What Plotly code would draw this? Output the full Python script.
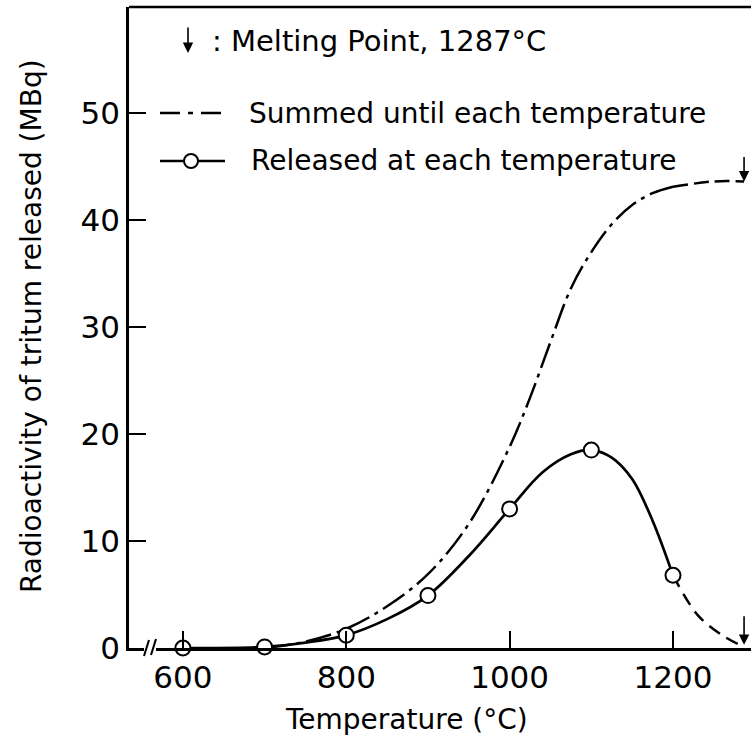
import plotly.graph_objects as go

# Tritium released from the sample at each heating temperature (MBq)
temps = [600, 700, 800, 900, 1000, 1100, 1200]
released = [0.0, 0.1, 1.2, 4.9, 13.0, 18.5, 6.8]

released_curve_t = [600, 700, 750, 800, 850, 900, 950, 1000, 1040, 1075, 1100, 1125, 1150, 1175, 1200]
released_curve = [0.0, 0.1, 0.5, 1.2, 2.7, 4.9, 8.6, 13.0, 16.4, 18.1, 18.5, 17.8, 15.8, 11.9, 6.8]

# Extrapolated tail of the released curve up to the melting point
released_tail_t = [1200, 1230, 1260, 1287]
released_tail = [6.8, 3.1, 1.2, 0.1]

# Cumulative release summed until each temperature
summed_t = [700, 750, 800, 850, 900, 950, 1000, 1025, 1050, 1075, 1100, 1125, 1150, 1175, 1200]
summed = [0.0, 0.6, 1.8, 3.9, 6.9, 11.6, 18.8, 23.4, 28.6, 33.6, 37.0, 39.6, 41.4, 42.5, 43.1]
summed_tail_t = [1200, 1250, 1287]
summed_tail = [43.1, 43.6, 43.6]

melting_point = 1287

x_ticks = [600, 800, 1000, 1200]
y_ticks = [0, 10, 20, 30, 40, 50]

FONT = "DejaVu Sans"
W, H = 751, 747
ML, MR, MT, MB = 129, 0, 7, 99
PW, PH = W - ML - MR, H - MT - MB


def px(x):
    return (x - ML) / PW


def py(y):
    return (H - MB - y) / PH


fig = go.Figure()

fig.add_trace(go.Scatter(
    x=summed_t, y=summed, mode="lines",
    line=dict(color="black", width=2.5, shape="spline", dash="26px,6px,4px,6px"),
    hoverinfo="skip", showlegend=False))
fig.add_trace(go.Scatter(
    x=summed_tail_t, y=summed_tail, mode="lines",
    line=dict(color="black", width=2.5, shape="spline", dash="15px,6px"),
    hoverinfo="skip", showlegend=False))
fig.add_trace(go.Scatter(
    x=released_tail_t, y=released_tail, mode="lines",
    line=dict(color="black", width=2.5, shape="spline", dash="13px,8px"),
    hoverinfo="skip", showlegend=False))
fig.add_trace(go.Scatter(
    x=released_curve_t, y=released_curve, mode="lines",
    line=dict(color="black", width=2.7, shape="spline"),
    hoverinfo="skip", showlegend=False))
fig.add_trace(go.Scatter(
    x=temps, y=released, mode="markers",
    marker=dict(symbol="circle", size=15, color="white",
                line=dict(color="black", width=2)),
    cliponaxis=False, hoverinfo="skip", showlegend=False))

annotations = []
# Melting point arrows
for yv, length in [(summed_tail[-1], -26), (0.3, -30)]:
    annotations.append(dict(
        x=melting_point, y=yv, xref="x", yref="y", text="", showarrow=True,
        ax=0, ay=length, arrowhead=2, arrowsize=1.3, arrowwidth=1.6,
        arrowcolor="black"))

# Key
annotations.append(dict(
    x=px(188), y=py(53), xref="paper", yref="paper", text="", showarrow=True,
    ax=0, ay=-27, arrowhead=2, arrowsize=1.3, arrowwidth=1.6, arrowcolor="black"))
annotations.append(dict(
    x=px(210), y=py(41), xref="paper", yref="paper", xanchor="left", yanchor="middle",
    text=": Melting Point, 1287°C", showarrow=False,
    font=dict(family=FONT, size=29, color="black")))
annotations.append(dict(
    x=px(247), y=py(113), xref="paper", yref="paper", xanchor="left", yanchor="middle",
    text="Summed until each temperature", showarrow=False,
    font=dict(family=FONT, size=28, color="black")))
annotations.append(dict(
    x=px(249), y=py(160), xref="paper", yref="paper", xanchor="left", yanchor="middle",
    text="Released at each temperature", showarrow=False,
    font=dict(family=FONT, size=28, color="black")))

# Axis titles
annotations.append(dict(
    x=px(406), y=py(719), xref="paper", yref="paper", xanchor="center", yanchor="middle",
    text="Temperature (°C)", showarrow=False,
    font=dict(family=FONT, size=28, color="black")))
annotations.append(dict(
    x=px(31), y=py(326), xref="paper", yref="paper", xanchor="center", yanchor="middle",
    text="Radioactivity of tritum released (MBq)", showarrow=False, textangle=-90,
    font=dict(family=FONT, size=28, color="black")))

shapes = [
    # top frame line
    dict(type="line", xref="paper", yref="paper", x0=0, x1=1.01, y0=1, y1=1,
         line=dict(color="black", width=2.4)),
    # axis break
    dict(type="rect", xref="paper", yref="paper", x0=px(144), x1=px(156),
         y0=py(652), y1=py(644), fillcolor="white", line=dict(width=0)),
    dict(type="line", xref="paper", yref="paper", x0=px(144), x1=px(149),
         y0=py(656), y1=py(640), line=dict(color="black", width=2)),
    dict(type="line", xref="paper", yref="paper", x0=px(151), x1=px(156),
         y0=py(655), y1=py(639), line=dict(color="black", width=2)),
    # key: summed line
    dict(type="line", xref="paper", yref="paper", x0=px(160), x1=px(227),
         y0=py(113), y1=py(113),
         line=dict(color="black", width=2.4, dash="20px,8px,5px,8px")),
    # key: released line with marker
    dict(type="line", xref="paper", yref="paper", x0=px(160), x1=px(225),
         y0=py(161), y1=py(161), line=dict(color="black", width=2.4)),
    dict(type="circle", xref="paper", yref="paper", xsizemode="pixel", ysizemode="pixel",
         xanchor=px(191), yanchor=py(161), x0=-7, x1=7, y0=-7, y1=7,
         fillcolor="white", line=dict(color="black", width=2)),
]

fig.update_layout(
    width=W, height=H,
    margin=dict(l=ML, r=MR, t=MT, b=MB),
    paper_bgcolor="white", plot_bgcolor="white",
    font=dict(family=FONT, color="black"),
    showlegend=False,
    annotations=annotations,
    shapes=shapes,
)
fig.update_xaxes(
    range=[534, 1295.5], tickvals=x_ticks, ticktext=[str(v) for v in x_ticks],
    ticks="inside", ticklen=17, tickwidth=2, tickcolor="black",
    showline=True, linecolor="black", linewidth=2.6,
    showgrid=False, zeroline=False,
    tickfont=dict(family=FONT, size=31, color="black"),
    ticklabelstandoff=0,
)
fig.update_yaxes(
    range=[0, 59.9], tickvals=y_ticks, ticktext=[str(v) for v in y_ticks],
    ticks="inside", ticklen=17, tickwidth=2, tickcolor="black",
    showline=True, linecolor="black", linewidth=2.6,
    showgrid=False, zeroline=False,
    tickfont=dict(family=FONT, size=31, color="black"),
    ticklabelstandoff=0,
)

fig.write_html("out.html")
